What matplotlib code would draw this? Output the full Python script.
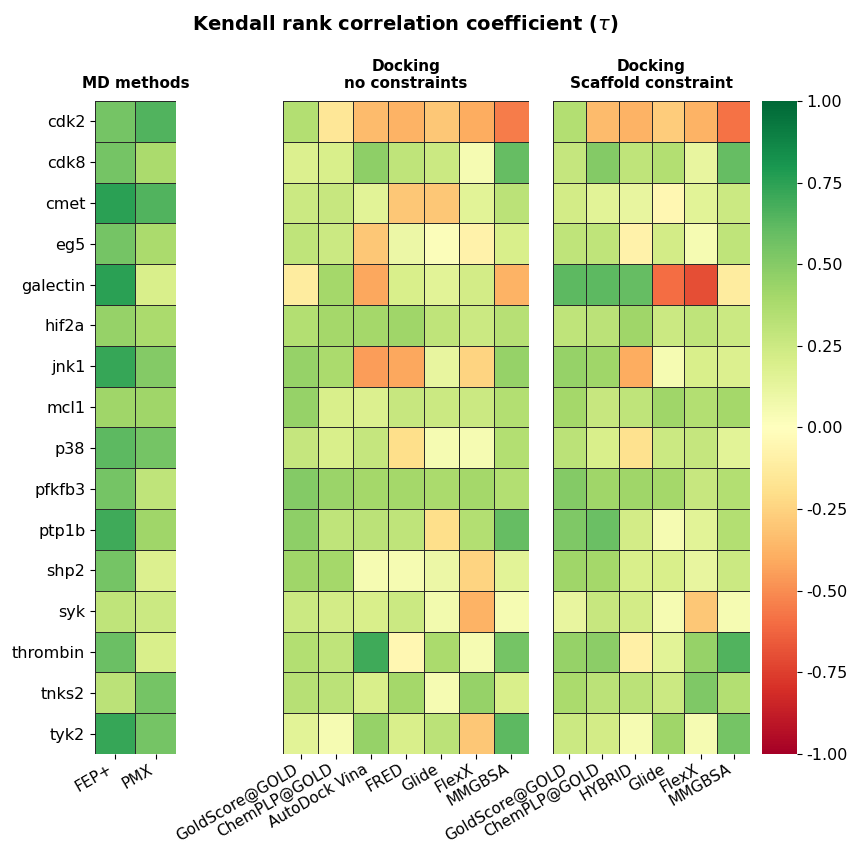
import matplotlib.pyplot as plt
import numpy as np

targets = ['cdk2', 'cdk8', 'cmet', 'eg5', 'galectin', 'hif2a', 'jnk1', 'mcl1',
           'p38', 'pfkfb3', 'ptp1b', 'shp2', 'syk', 'thrombin', 'tnks2', 'tyk2']

md_methods = ['FEP+', 'PMX']
dock_methods = ['GoldScore@GOLD', 'ChemPLP@GOLD', 'AutoDock Vina', 'FRED',
                'Glide', 'FlexX', 'MMGBSA']
scaf_methods = ['GoldScore@GOLD', 'ChemPLP@GOLD', 'HYBRID', 'Glide', 'FlexX',
                'MMGBSA']

# Kendall tau per target (rows) and method (columns)
tau_md = [
    [0.55, 0.65], [0.55, 0.38], [0.75, 0.65], [0.55, 0.38],
    [0.75, 0.20], [0.45, 0.38], [0.72, 0.50], [0.42, 0.42],
    [0.62, 0.55], [0.55, 0.30], [0.70, 0.42], [0.55, 0.18],
    [0.30, 0.25], [0.58, 0.20], [0.32, 0.55], [0.72, 0.55],
]

tau_dock = [
    [0.35, -0.15, -0.35, -0.38, -0.30, -0.40, -0.55],
    [0.18, 0.20, 0.47, 0.30, 0.25, 0.05, 0.60],
    [0.25, 0.27, 0.15, -0.30, -0.30, 0.15, 0.32],
    [0.30, 0.25, -0.30, 0.10, 0.02, -0.08, 0.20],
    [-0.12, 0.40, -0.42, 0.20, 0.15, 0.22, -0.38],
    [0.35, 0.40, 0.40, 0.42, 0.30, 0.25, 0.33],
    [0.45, 0.38, -0.45, -0.42, 0.12, -0.25, 0.45],
    [0.45, 0.20, 0.18, 0.27, 0.25, 0.25, 0.35],
    [0.28, 0.20, 0.28, -0.20, 0.05, 0.05, 0.35],
    [0.50, 0.43, 0.40, 0.40, 0.38, 0.40, 0.35],
    [0.47, 0.30, 0.32, 0.30, -0.20, 0.35, 0.60],
    [0.42, 0.40, 0.05, 0.05, 0.10, -0.25, 0.15],
    [0.25, 0.22, 0.20, 0.25, 0.07, -0.38, 0.05],
    [0.35, 0.30, 0.70, -0.05, 0.38, 0.05, 0.55],
    [0.33, 0.32, 0.20, 0.40, 0.05, 0.45, 0.20],
    [0.15, 0.05, 0.45, 0.20, 0.32, -0.30, 0.62],
]

tau_scaf = [
    [0.35, -0.35, -0.38, -0.28, -0.38, -0.58],
    [0.28, 0.50, 0.30, 0.35, 0.12, 0.60],
    [0.22, 0.15, 0.12, -0.05, 0.15, 0.25],
    [0.30, 0.30, -0.08, 0.22, 0.05, 0.30],
    [0.62, 0.62, 0.60, -0.60, -0.70, -0.12],
    [0.30, 0.32, 0.42, 0.25, 0.30, 0.25],
    [0.45, 0.42, -0.40, 0.05, 0.20, 0.18],
    [0.40, 0.27, 0.30, 0.42, 0.35, 0.40],
    [0.32, 0.20, -0.18, 0.25, 0.28, 0.15],
    [0.50, 0.42, 0.42, 0.40, 0.27, 0.35],
    [0.52, 0.58, 0.22, 0.05, 0.15, 0.35],
    [0.42, 0.40, 0.20, 0.20, 0.12, 0.25],
    [0.12, 0.27, 0.22, 0.05, -0.30, 0.05],
    [0.45, 0.48, -0.10, 0.15, 0.45, 0.65],
    [0.38, 0.32, 0.32, 0.25, 0.52, 0.35],
    [0.25, 0.22, 0.05, 0.42, 0.05, 0.55],
]

fig = plt.figure(figsize=(8.55, 8.46), dpi=100)

bottom, height = 0.1087, 0.772
panels = [
    (0.1111, 0.0947, tau_md, md_methods, 'MD methods'),
    (0.3310, 0.2877, tau_dock, dock_methods, 'Docking\nno constraints'),
    (0.6468, 0.2304, tau_scaf, scaf_methods, 'Docking\nScaffold constraint'),
]

mesh = None
for i, (left, width, data, cols, title) in enumerate(panels):
    ax = fig.add_axes([left, bottom, width, height])
    z = np.array(data)
    mesh = ax.pcolormesh(z, cmap='RdYlGn', vmin=-1, vmax=1,
                         edgecolors='#2a2a2a', linewidth=0.4)
    ax.set_xlim(0, z.shape[1])
    ax.set_ylim(z.shape[0], 0)
    ax.set_xticks(np.arange(z.shape[1]) + 0.5)
    ax.set_xticklabels(cols, rotation=30, ha='right', fontsize=11)
    ax.tick_params(axis='x', pad=2)
    ax.set_yticks(np.arange(z.shape[0]) + 0.5)
    if i == 0:
        ax.set_yticklabels(targets, fontsize=11.5)
    else:
        ax.set_yticklabels([])
        ax.tick_params(axis='y', left=False)
    for s in ax.spines.values():
        s.set_visible(False)
    ax.set_title(title, fontsize=11, fontweight='bold', pad=9)

cax = fig.add_axes([0.8912, bottom, 0.0409, height])
cbar = fig.colorbar(mesh, cax=cax)
cbar.set_ticks(np.arange(-1, 1.01, 0.25))
cbar.ax.set_yticklabels(['%.2f' % t for t in np.arange(-1, 1.01, 0.25)])
cbar.ax.tick_params(labelsize=11.5)
cbar.outline.set_visible(False)

fig.text(0.474, 0.972, 'Kendall rank correlation coefficient ($\\tau$)',
         ha='center', va='center', fontsize=14, fontweight='bold')

fig.savefig('out.png', dpi=100)
